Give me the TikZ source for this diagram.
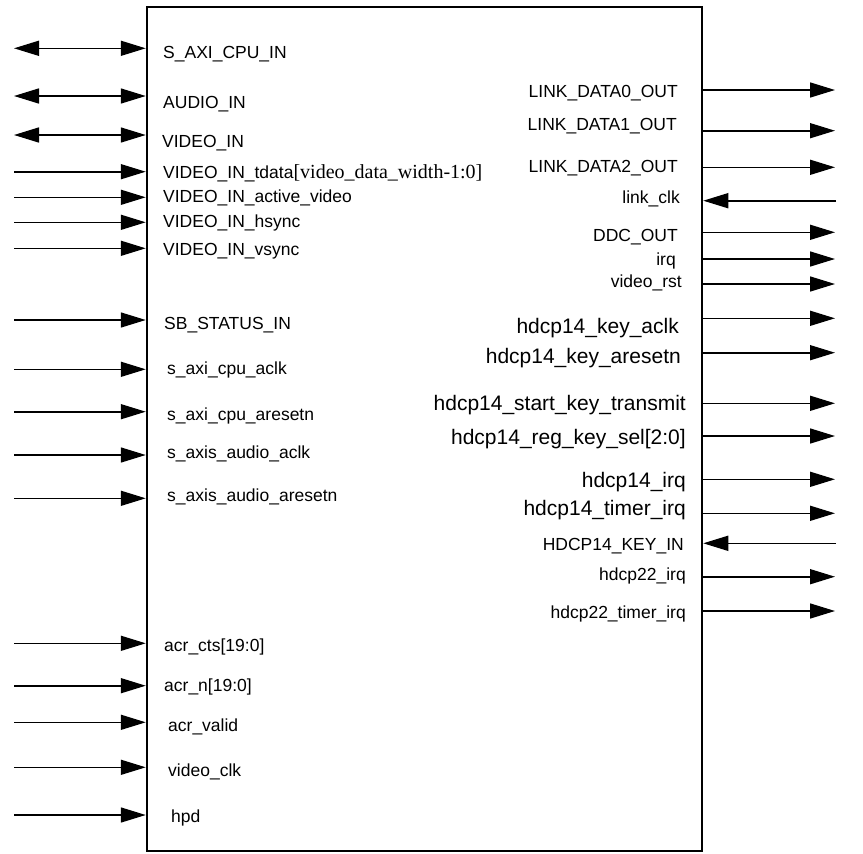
\documentclass[tikz,border=0pt]{standalone}
\usepackage{fontspec}
\setmainfont{Liberation Sans}
\newfontfamily\tdatafont{Liberation Serif}
\usetikzlibrary{arrows.meta}

\begin{document}
\begin{tikzpicture}[
  x=1pt, y=-1pt,
  sig/.style={line width=1.6pt, -{Triangle[length=25pt,width=15pt]}},
  sigbi/.style={line width=1.6pt, {Triangle[length=25pt,width=15pt]}-{Triangle[length=25pt,width=15pt]}},
  lbl/.style={inner sep=0pt, font=\fontsize{17.5}{20}\selectfont},
  biglbl/.style={inner sep=0pt, font=\fontsize{21}{24}\selectfont}
]
\useasboundingbox (0,0) rectangle (863,854);

\node[draw, line width=2.5pt, minimum width=555pt, minimum height=844pt, inner sep=0pt] (core) at (424.5,429) {};

% left side: bidirectional buses
\foreach \y/\lx/\ly/\txt [count=\i] in {
  48.3/163/52.7/{S\_AXI\_CPU\_IN},
  96/163/102.7/{AUDIO\_IN},
  135/162/141.7/{VIDEO\_IN}
} {
  \coordinate (bus\i) at (14,\y);
  \draw[sigbi] (bus\i) -- (bus\i -| core.west);
  \node[lbl, anchor=base west] (buslbl\i) at (\lx,\ly+6) {\txt};
}

% left side: inputs
\foreach \y/\lx/\ly/\txt [count=\i] in {
  171.7/163/172.7/{VIDEO\_IN\_tdata{\tdatafont\fontsize{20}{22}\selectfont[video\_data\_width-1:0]}},
  197.3/163/196.7/{VIDEO\_IN\_active\_video},
  222.3/163/221.7/{VIDEO\_IN\_hsync},
  248.3/163/249.3/{VIDEO\_IN\_vsync},
  320/164/323.3/{SB\_STATUS\_IN},
  369.3/167/368.3/{s\_axi\_cpu\_aclk},
  411.7/167/414/{s\_axi\_cpu\_aresetn},
  455/167/452.3/{s\_axis\_audio\_aclk},
  498.3/167/495/{s\_axis\_audio\_aresetn},
  643.3/164/645/{acr\_cts[19:0]},
  685.7/164/685.7/{acr\_n[19:0]},
  722.3/168/725/{acr\_valid},
  767.3/168/770.7/{video\_clk},
  815/171/816.7/{hpd}
} {
  \coordinate (in\i) at (14,\y);
  \draw[sig] (in\i) -- (in\i -| core.west);
  \node[lbl, anchor=base west] (inlbl\i) at (\lx,\ly+6) {\txt};
}

% right side: outputs
\foreach \y/\rx/\ly/\sz/\txt [count=\i] in {
  90/678/91.7/lbl/{LINK\_DATA0\_OUT},
  130.7/677/124.3/lbl/{LINK\_DATA1\_OUT},
  167.3/678/166.7/lbl/{LINK\_DATA2\_OUT},
  232.3/678/235.7/lbl/{DDC\_OUT},
  259/676/259/lbl/{irq},
  284/682/281.7/lbl/{video\_rst},
  318.3/679/327.5/biglbl/{hdcp14\_key\_aclk},
  352.7/681/357.5/biglbl/{hdcp14\_key\_aresetn},
  403.3/686/404.2/biglbl/{hdcp14\_start\_key\_transmit},
  436/686/438.2/biglbl/{hdcp14\_reg\_key\_sel[2:0]},
  479.3/686/481.5/biglbl/{hdcp14\_irq},
  513.3/686/509.8/biglbl/{hdcp14\_timer\_irq},
  576.7/686/574.3/lbl/{hdcp22\_irq},
  611/686/612.3/lbl/{hdcp22\_timer\_irq}
} {
  \coordinate (out\i) at (835,\y);
  \draw[sig] (out\i -| core.east) -- (out\i);
  \node[\sz, anchor=base east] (outlbl\i) at (\rx,\ly+6) {\txt};
}

% right side: inputs
\foreach \y/\rx/\ly/\txt [count=\i] in {
  200.7/680/197.7/{link\_clk},
  543.3/684/544.3/{HDCP14\_KEY\_IN}
} {
  \coordinate (rin\i) at (836,\y);
  \draw[sig] (rin\i) -- (rin\i -| core.east);
  \node[lbl, anchor=base east] (rinlbl\i) at (\rx,\ly+6) {\txt};
}

\end{tikzpicture}
\end{document}
